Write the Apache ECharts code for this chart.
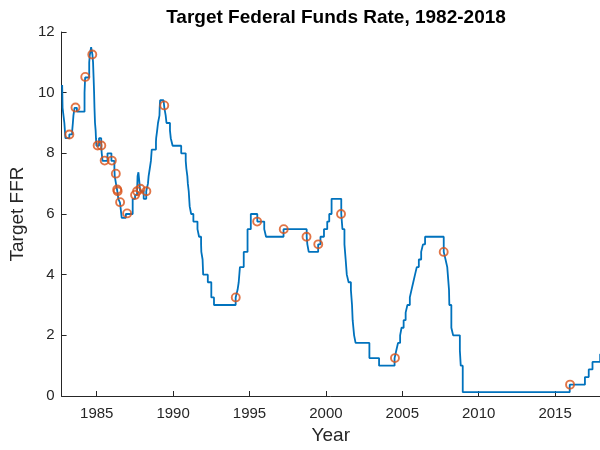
<!DOCTYPE html>
<html>
<head>
<meta charset="utf-8">
<script src="https://cdn.jsdelivr.net/npm/echarts@6/dist/echarts.min.js"></script>
<style>
html,body{margin:0;padding:0;background:#fff;}
#chart{width:600px;height:450px;}
</style>
</head>
<body>
<div id="chart"></div>
<script>
// Target rate change dates and new target values (percent)
const changeDates = [
  "1982-09-27","1982-10-01","1982-10-07","1982-11-19","1982-12-14",
  "1983-03-17","1983-05-25","1983-06-10","1983-06-24","1983-07-20","1983-09-15",
  "1984-03-15","1984-03-29","1984-07-05","1984-07-20","1984-08-20","1984-09-20",
  "1984-10-05","1984-10-18","1984-10-30","1984-11-08","1984-11-21","1984-12-06","1984-12-14","1984-12-24",
  "1985-02-25","1985-04-18","1985-05-01","1985-05-20","1985-09-15","1985-12-18",
  "1986-02-27","1986-03-07","1986-04-21","1986-05-08","1986-06-01","1986-07-11","1986-08-21","1986-11-28",
  "1987-05-10","1987-07-06","1987-08-23","1987-09-04","1987-09-24","1987-10-20","1987-11-04",
  "1988-01-28","1988-03-29","1988-05-09","1988-05-25","1988-06-22","1988-07-19","1988-08-08","1988-11-17","1988-11-22","1988-12-15",
  "1989-01-05","1989-02-09","1989-02-14","1989-02-24","1989-05-17","1989-06-06","1989-07-07","1989-07-27","1989-10-18","1989-11-06","1989-12-20",
  "1990-07-13","1990-10-29","1990-11-13","1990-12-07","1990-12-19",
  "1991-01-09","1991-02-01","1991-03-08","1991-04-30","1991-08-06","1991-09-13","1991-10-31","1991-11-06","1991-12-06","1991-12-20",
  "1992-04-09","1992-07-02","1992-09-04",
  "1994-02-04","1994-03-22","1994-04-18","1994-05-17","1994-08-16","1994-11-15",
  "1995-02-01","1995-07-06","1995-12-19","1996-01-31","1997-03-25",
  "1998-09-29","1998-10-15","1998-11-17","1999-06-30","1999-08-24","1999-11-16",
  "2000-02-02","2000-03-21","2000-05-16",
  "2001-01-03","2001-01-31","2001-03-20","2001-04-18","2001-05-15","2001-06-27","2001-08-21","2001-09-17","2001-10-02","2001-11-06","2001-12-11",
  "2002-11-06","2003-06-25",
  "2004-06-30","2004-08-10","2004-09-21","2004-11-10","2004-12-14",
  "2005-02-02","2005-03-22","2005-05-03","2005-06-30","2005-08-09","2005-09-20","2005-11-01","2005-12-13",
  "2006-01-31","2006-03-28","2006-05-10","2006-06-29",
  "2007-09-18","2007-10-31","2007-12-11",
  "2008-01-22","2008-01-30","2008-03-18","2008-04-30","2008-10-08","2008-10-29","2008-12-16",
  "2015-12-17","2016-12-15","2017-03-16","2017-06-14","2017-12-14","2018-03-22"
];
const targetRates = [
  10.25,10.00,9.50,9.00,8.50,
  8.625,8.75,9.00,9.25,9.50,9.375,
  10.00,10.50,11.00,11.25,11.50,11.25,
  11.00,10.50,10.00,9.50,9.00,8.75,8.50,8.25,
  8.50,8.25,8.00,7.75,8.00,7.75,
  7.50,7.25,6.875,6.75,6.50,6.375,5.875,6.00,
  6.50,6.625,6.75,7.25,7.375,7.00,6.75,
  6.50,6.75,7.00,7.25,7.50,7.75,8.125,8.375,8.50,8.75,
  9.00,9.25,9.50,9.75,9.8125,9.50,9.25,9.00,8.75,8.50,8.25,
  8.00,7.75,7.50,7.25,7.00,
  6.75,6.25,6.00,5.75,5.50,5.25,5.00,4.75,4.50,4.00,
  3.75,3.25,3.00,
  3.25,3.50,3.75,4.25,4.75,5.50,
  6.00,5.75,5.50,5.25,5.50,
  5.25,5.00,4.75,5.00,5.25,5.50,
  5.75,6.00,6.50,
  6.00,5.50,5.00,4.50,4.00,3.75,3.50,3.00,2.50,2.00,1.75,
  1.25,1.00,
  1.25,1.50,1.75,2.00,2.25,
  2.50,2.75,3.00,3.25,3.50,3.75,4.00,4.25,
  4.50,4.75,5.00,5.25,
  4.75,4.50,4.25,
  3.50,3.00,2.25,2.00,1.50,1.00,0.125,
  0.375,0.625,0.875,1.125,1.375,1.625
];
// Highlighted points (decimal year, rate)
const markerYears = [1983.21,1983.61,1984.25,1984.71,1985.06,1985.30,1985.52,1985.99,1986.25,1986.34,1986.37,1986.53,1986.99,1987.51,1987.64,1987.86,1988.25,1989.42,1994.10,1995.50,1997.24,1998.73,1999.50,2000.99,2004.52,2007.71,2015.98];
const markerRates = [8.62,9.51,10.52,11.26,8.26,8.26,7.76,7.76,7.33,6.81,6.75,6.39,6.02,6.63,6.75,6.83,6.75,9.58,3.25,5.75,5.5,5.25,5.0,6.0,1.25,4.75,0.375];
// Axis ticks
const xTickYears = [1985,1990,1995,2000,2005,2010,2015];
const yMin = 0, yMax = 12, yStep = 2;
const xMin = 1982.70, xMax = 2017.94;

function decYear(s){
  const [y,m,d] = s.split('-').map(Number);
  const t = Date.UTC(y,m-1,d), t0 = Date.UTC(y,0,1), t1 = Date.UTC(y+1,0,1);
  return y + (t - t0)/(t1 - t0);
}
const lineData = changeDates.map((s,i)=>[decYear(s), targetRates[i]]);
const markerData = markerYears.map((x,i)=>[x, markerRates[i]]);

const axisColor = '#262626';
const font = 'Liberation Sans, Arial, Helvetica, sans-serif';
const chart = echarts.init(document.getElementById('chart'), null, {renderer:'canvas'});
chart.setOption({
  animation:false,
  backgroundColor:'#ffffff',
  title:{
    text:'Target Federal Funds Rate, 1982-2018',
    left:331, top:3, textAlign:'center',
    textStyle:{fontFamily:font, fontWeight:'bold', fontSize:19, color:'#000'}
  },
  grid:{left:60, top:32, width:542, height:368, containLabel:false},
  xAxis:{
    type:'value', min:xMin, max:xMax,
    name:'Year', nameLocation:'middle', nameGap:30,
    nameTextStyle:{fontFamily:font, fontSize:19, color:axisColor},
    axisLine:{show:true, onZero:false, lineStyle:{color:axisColor, width:1}},
    axisTick:{show:true, inside:true, length:5, customValues:xTickYears, lineStyle:{color:axisColor}},
    axisLabel:{show:true, customValues:xTickYears, margin:10, fontFamily:font, fontSize:15, color:axisColor, formatter:v=>String(v)},
    splitLine:{show:false}
  },
  yAxis:{
    type:'value', min:yMin, max:yMax, interval:yStep,
    name:'Target FFR', nameLocation:'middle', nameGap:27, nameRotate:90,
    nameTextStyle:{fontFamily:font, fontSize:19, color:axisColor},
    axisLine:{show:true, onZero:false, lineStyle:{color:axisColor, width:1}},
    axisTick:{show:true, inside:true, length:5, lineStyle:{color:axisColor}},
    axisLabel:{margin:7, fontFamily:font, fontSize:15, color:axisColor},
    splitLine:{show:false}
  },
  series:[
    {type:'line', data:lineData, step:'end', symbol:'none', clip:true,
     lineStyle:{color:'#0072BD', width:1.8}, z:2},
    {type:'scatter', data:markerData, symbol:'circle', symbolSize:8,
     itemStyle:{color:'rgba(0,0,0,0)', borderColor:'#D95319', borderWidth:1.9}, z:3}
  ]
});
</script>
</body>
</html>
